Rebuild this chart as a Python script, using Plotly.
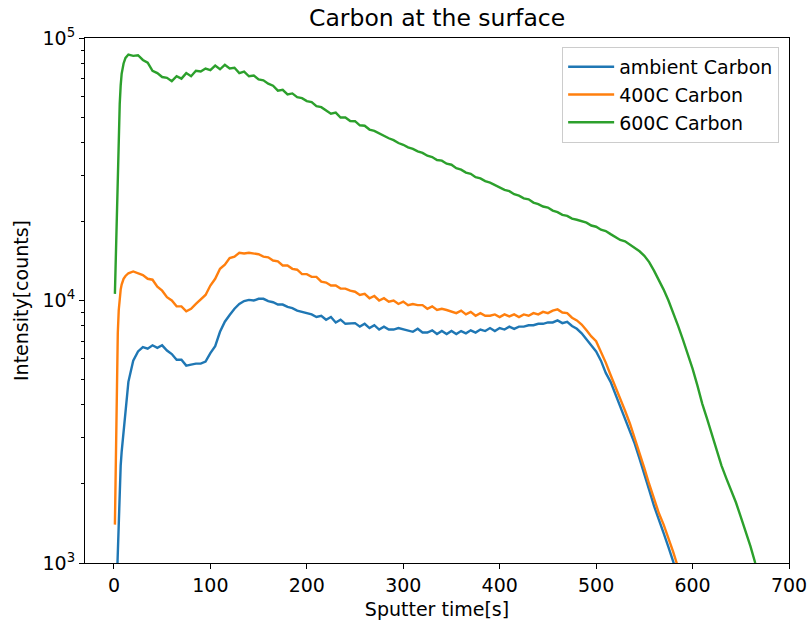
import plotly.graph_objects as go

# Sputter time [s]
t = [1, 2, 3, 4, 5, 6, 7, 8, 10, 12, 15] + list(range(20, 685, 5))

green = [10600, 15000, 22000, 31000, 43000, 56000, 66000, 73000, 80000, 84000, 86500,
         85500, 86000, 82500, 80500, 75000, 73500, 71000, 70500, 68500, 71500,
         70000, 73500, 71500, 75000, 74500, 76500, 75500, 78500, 76000, 79000,
         76500, 77000, 73500, 74500, 71500, 72000, 69500, 69000, 67000, 65800,
         63000, 63500, 61000, 61500, 59500, 59000, 57500, 57000, 55000, 54500,
         53000, 51500, 52000, 49800, 49800, 48300, 48200, 46500, 46300, 44800,
         44300, 43300, 42200, 41500, 40800, 39800, 39200, 38300, 37800, 37000,
         36500, 35600, 35200, 34300, 34100, 33200, 32900, 31900, 31500, 30700,
         30400, 29500, 29200, 28500, 28100, 27500, 27100, 26400, 26100, 25400,
         25100, 24500, 24300, 23600, 23300, 22800, 22600, 22000, 21700, 21200,
         21000, 20500, 20300, 20000, 19800, 19300, 19100, 18600, 18400, 17900,
         17500, 17000, 16800, 16300, 15900, 15400, 14800, 14000, 13000, 12000,
         11000, 10000, 9000, 8000, 7100, 6300, 5500, 4750, 4050, 3550,
         3100, 2700, 2350, 2100, 1900, 1700, 1500, 1320, 1160, 1000,
         880, 770]

orange = [1400, 2800, 5000, 7500, 9200, 10200, 11000, 11500, 12100, 12400, 12700,
          12900, 12700, 12500, 12100, 12000, 11300, 10900, 10300, 10000, 9500,
          9500, 9100, 9300, 9700, 10100, 10500, 11400, 12100, 13200, 13700,
          14500, 14700, 15200, 15100, 15200, 15100, 15000, 14700, 14600, 14200,
          14100, 13600, 13600, 13200, 13100, 12600, 12600, 12300, 12300, 11800,
          11700, 11400, 11400, 11100, 11100, 10900, 10800, 10500, 10600, 10200,
          10400, 10000, 10200, 9900, 10000, 9700, 9900, 9600, 9700, 9600,
          9600, 9300, 9500, 9200, 9300, 9200, 9100, 8950, 9150, 8850,
          9050, 8750, 8950, 8750, 8750, 8850, 8650, 8850, 8700, 8850,
          8650, 8850, 8750, 8950, 8850, 9050, 8950, 9150, 9250, 9000,
          8950, 8600, 8400, 8100, 7700, 7300, 7000, 6400, 5800, 5200,
          4700, 4200, 3800, 3400, 3000, 2650, 2300, 2000, 1750, 1550,
          1400, 1250, 1100, 960, 850]

blue = [500, 650, 900, 1300, 1700, 2000, 2350, 2650, 3150, 3800, 4900,
        5900, 6400, 6650, 6550, 6750, 6600, 6750, 6450, 6250, 5950,
        5950, 5650, 5700, 5750, 5750, 5850, 6300, 6700, 7600, 8300,
        8800, 9300, 9700, 9950, 10050, 10000, 10150, 10150, 9950, 9850,
        9650, 9650, 9450, 9350, 9150, 9050, 8950, 8850, 8650, 8750,
        8450, 8650, 8250, 8450, 8150, 8150, 8200, 7950, 8150, 7850,
        8050, 7750, 7950, 7750, 7750, 7850, 7750, 7700, 7600, 7800,
        7550, 7550, 7700, 7450, 7650, 7450, 7650, 7450, 7650, 7500,
        7700, 7550, 7750, 7650, 7850, 7650, 7850, 7750, 7950, 7800,
        7950, 7950, 8050, 8050, 8150, 8150, 8250, 8250, 8400, 8200,
        8300, 8000, 7800, 7500, 7100, 6700, 6400, 5900, 5300, 4900,
        4400, 3950, 3550, 3200, 2850, 2500, 2200, 1900, 1650, 1450,
        1300, 1150, 1000, 880, 780]

series = [("ambient Carbon", blue, "#1f77b4"),
          ("400C Carbon", orange, "#ff7f0e"),
          ("600C Carbon", green, "#2ca02c")]

y_major = [1000, 10000, 100000]
y_major_text = ["10<sup>3</sup>", "10<sup>4</sup>", "10<sup>5</sup>"]
y_minor = [m * 10 ** e for e in (3, 4) for m in range(2, 10)]
x_ticks = [0, 100, 200, 300, 400, 500, 600, 700]

fig = go.Figure()
for name, vals, color in series:
    fig.add_trace(go.Scatter(x=t[:len(vals)], y=vals, mode="lines", name=name,
                             line=dict(color=color, width=2.4)))

font = "DejaVu Sans, sans-serif"
fig.update_layout(
    width=811, height=628,
    margin=dict(l=85, r=22, t=38, b=65),
    paper_bgcolor="white", plot_bgcolor="white",
    font=dict(family=font, size=19, color="black"),
    title=dict(text="Carbon at the surface", x=0.539, xanchor="center",
               y=0.971, yanchor="middle", font=dict(size=23.5)),
    legend=dict(x=0.986, y=0.983, xanchor="right", yanchor="top",
                bgcolor="rgba(255,255,255,0.8)", bordercolor="#cccccc",
                borderwidth=1, font=dict(size=19), itemwidth=46),
    showlegend=True,
)
fig.update_xaxes(range=[-30, 700], tickvals=x_ticks, ticks="outside",
                 ticklen=5, tickwidth=1.2, tickcolor="black", automargin=False,
                 showline=True, linecolor="black", linewidth=1.2, mirror=True,
                 showgrid=False, zeroline=False,
                 title=dict(text="Sputter time[s]", font=dict(size=19), standoff=7))
fig.update_yaxes(type="log", range=[3, 5], tickvals=y_major, ticktext=y_major_text,
                 ticks="outside", ticklen=5, tickwidth=1.2, tickcolor="black",
                 automargin=False,
                 minor=dict(tickvals=y_minor, ticks="outside", ticklen=3,
                            tickcolor="black", tickwidth=1, showgrid=False),
                 showline=True, linecolor="black", linewidth=1.2, mirror=True,
                 showgrid=False, zeroline=False,
                 title=dict(text="Intensity[counts]", font=dict(size=19), standoff=8))

fig.write_html("out.html")
